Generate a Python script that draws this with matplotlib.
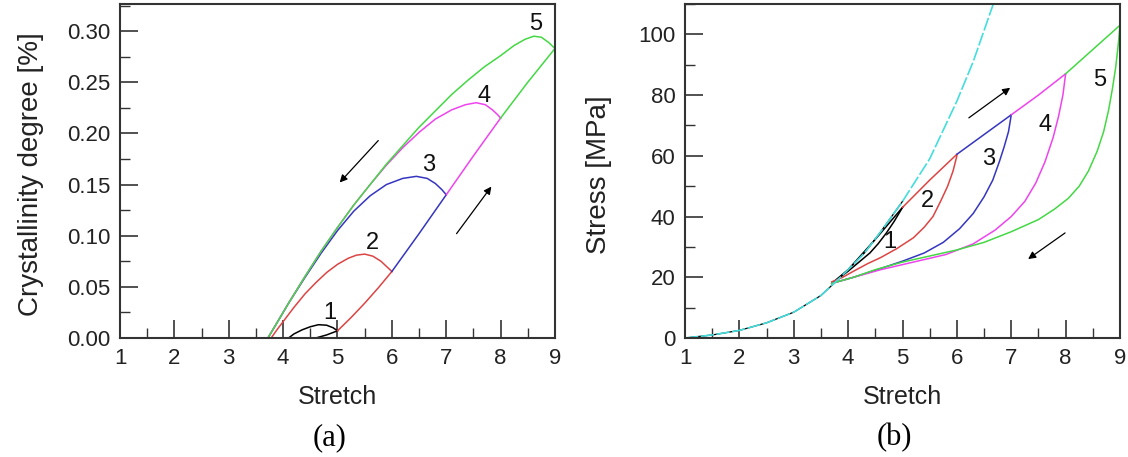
import numpy as np
import matplotlib.pyplot as plt
from matplotlib.ticker import MultipleLocator

plt.rcParams['font.family'] = ['Liberation Sans', 'DejaVu Sans']

# colours of the five loading cycles
cycle_colors = ['black', '#dd4444', '#3535c0', '#ee44ee', '#44d844']
cycle_labels = ['1', '2', '3', '4', '5']

# ---- (a) crystallinity vs stretch ----
# unloading branches (upper arches) of each cycle
cry_unload_x = [
    [4.10, 4.20, 4.35, 4.50, 4.65, 4.80, 4.92, 5.00],
    [3.78, 3.90, 4.00, 4.20, 4.40, 4.60, 4.80, 5.00, 5.20, 5.35, 5.50, 5.65, 5.80, 5.90, 6.00],
    [3.72, 3.90, 4.10, 4.40, 4.70, 5.00, 5.30, 5.60, 5.90, 6.20, 6.45, 6.65, 6.80, 6.92, 7.00],
    [3.72, 3.90, 4.10, 4.40, 4.70, 5.00, 5.30, 5.60, 5.90, 6.20, 6.50, 6.80, 7.10, 7.35, 7.55,
     7.72, 7.85, 7.95, 8.00],
    [3.72, 3.90, 4.10, 4.40, 4.70, 5.00, 5.30, 5.60, 5.90, 6.20, 6.50, 6.80, 7.10, 7.40, 7.70,
     8.00, 8.25, 8.45, 8.61, 8.75, 8.88, 9.00],
]
cry_unload_y = [
    [0.000, 0.004, 0.008, 0.011, 0.013, 0.0125, 0.010, 0.007],
    [0.000, 0.009, 0.016, 0.030, 0.043, 0.054, 0.064, 0.072, 0.078, 0.081, 0.082, 0.080, 0.075,
     0.070, 0.065],
    [0.000, 0.016, 0.034, 0.059, 0.083, 0.105, 0.124, 0.139, 0.150, 0.156, 0.158, 0.156, 0.151,
     0.145, 0.140],
    [0.000, 0.016, 0.034, 0.060, 0.085, 0.108, 0.130, 0.150, 0.169, 0.186, 0.201, 0.214, 0.223,
     0.228, 0.230, 0.228, 0.223, 0.218, 0.215],
    [0.000, 0.016, 0.034, 0.060, 0.085, 0.108, 0.130, 0.150, 0.170, 0.188, 0.206, 0.222, 0.238,
     0.252, 0.265, 0.276, 0.286, 0.292, 0.295, 0.294, 0.289, 0.283],
]
# loading branches (envelope pieces) of each cycle
cry_load_x = [
    [4.60, 4.80, 5.00],
    [5.00, 5.25, 5.50, 5.75, 6.00],
    [6.00, 6.50, 7.00],
    [7.00, 7.50, 8.00],
    [8.00, 8.50, 9.00],
]
cry_load_y = [
    [0.000, 0.003, 0.007],
    [0.007, 0.020, 0.034, 0.049, 0.065],
    [0.065, 0.102, 0.140],
    [0.140, 0.178, 0.215],
    [0.215, 0.250, 0.283],
]
cry_label_pos = [(4.86, 0.024), (5.65, 0.093), (6.67, 0.169), (7.69, 0.237), (8.64, 0.307)]

# ---- (b) stress vs stretch ----
# monotonic reference curve (dashed)
ref_x = [1.0, 1.5, 2.0, 2.5, 3.0, 3.5, 3.8, 4.0, 4.3, 4.6, 5.0, 5.5, 6.0, 6.3, 6.67, 6.75]
ref_y = [0.0, 1.0, 2.5, 5.0, 8.5, 14.0, 19.0, 22.5, 28.0, 35.0, 45.0, 59.0, 78.0, 91.0, 110.0, 114.0]
# unloading branches of each cycle
str_unload_x = [
    [5.00, 4.85, 4.70, 4.55, 4.40, 4.20, 4.00, 3.85, 3.70],
    [6.00, 5.93, 5.83, 5.70, 5.56, 5.40, 5.20, 4.90, 4.60, 4.36, 4.10, 3.90, 3.70],
    [7.00, 6.95, 6.87, 6.78, 6.66, 6.50, 6.30, 6.05, 5.75, 5.40, 5.00, 4.50, 4.10, 3.70],
    [8.00, 7.95, 7.87, 7.77, 7.62, 7.45, 7.25, 7.00, 6.70, 6.30, 5.80, 5.20, 4.60, 4.10, 3.70],
    [9.00, 8.97, 8.92, 8.86, 8.79, 8.70, 8.58, 8.42, 8.25, 8.05, 7.80, 7.50, 7.00, 6.50, 6.00,
     5.50, 5.00, 4.50, 4.10, 3.70],
]
str_unload_y = [
    [43.0, 38.5, 34.5, 31.0, 28.0, 25.0, 22.0, 20.0, 18.0],
    [60.0, 55.0, 50.0, 45.0, 40.0, 36.5, 33.0, 29.5, 26.5, 24.5, 22.0, 20.0, 18.5],
    [73.5, 68.0, 63.0, 58.0, 52.0, 46.5, 41.0, 36.0, 31.5, 28.0, 25.3, 22.3, 20.0, 18.0],
    [87.0, 80.0, 73.0, 66.0, 58.0, 51.0, 45.0, 40.0, 35.5, 31.0, 27.5, 25.0, 22.5, 20.0, 18.0],
    [103.0, 97.0, 89.0, 82.0, 75.0, 68.0, 61.5, 55.0, 50.0, 46.0, 42.5, 39.0, 35.0, 31.5, 29.0,
     27.0, 25.0, 22.5, 20.0, 18.0],
]
# loading branches of each cycle
str_load_x = [
    [3.70, 4.00, 4.50, 5.00],
    [5.00, 5.50, 6.00],
    [6.00, 6.50, 7.00],
    [7.00, 7.50, 8.00],
    [8.00, 8.50, 9.00],
]
str_load_y = [
    [18.0, 22.5, 32.5, 43.0],
    [43.0, 52.0, 60.5],
    [60.5, 67.0, 73.5],
    [73.5, 80.0, 87.0],
    [87.0, 95.0, 103.0],
]
str_label_pos = [(4.76, 31.5), (5.46, 45.0), (6.58, 59.0), (7.62, 70.0), (8.63, 85.0)]


def style_axes(ax):
    ax.set_xlim(1, 9)
    ax.xaxis.set_major_locator(MultipleLocator(1))
    ax.xaxis.set_minor_locator(MultipleLocator(0.5))
    ax.tick_params(which='major', direction='in', length=13, width=1.2,
                   labelsize=16, pad=7, color='#333333', labelcolor='#222222')
    ax.tick_params(which='minor', direction='in', length=7, width=1.0, color='#333333')
    ax.tick_params(top=False, right=False, which='both')
    for s in ax.spines.values():
        s.set_linewidth(1.5)
        s.set_color('#333333')
    ax.set_xlabel('Stretch', fontsize=18, color='#222222')
    ax.xaxis.label.set_va('center')
    ax.xaxis.set_label_coords(0.5, -0.177)


fig = plt.figure(figsize=(11.28, 4.57), dpi=100)
ax1 = fig.add_axes([0.1064, 0.2604, 0.3856, 0.7309])
ax2 = fig.add_axes([0.6073, 0.2604, 0.3856, 0.7309])

arrow_kw = dict(arrowstyle='-|>', color='black', lw=0.9, mutation_scale=11, shrinkA=0, shrinkB=0)

# (a)
for i in range(5):
    ax1.plot(cry_load_x[i], cry_load_y[i], color=cycle_colors[i], lw=1.1)
    ax1.plot(cry_unload_x[i], cry_unload_y[i], color=cycle_colors[i], lw=1.1)
    ax1.text(*cry_label_pos[i], cycle_labels[i], fontsize=17, ha='center', va='center', color='#111111')
ax1.annotate('', xy=(5.04, 0.152), xytext=(5.75, 0.193), arrowprops=arrow_kw)
ax1.annotate('', xy=(7.83, 0.148), xytext=(7.19, 0.102), arrowprops=arrow_kw)
style_axes(ax1)
ax1.set_ylim(0, 0.3265)
ax1.yaxis.set_major_locator(MultipleLocator(0.05))
ax1.yaxis.set_minor_locator(MultipleLocator(0.025))
ax1.yaxis.set_major_formatter(plt.FormatStrFormatter('%.2f'))
ax1.set_ylabel('Crystallinity degree [%]', fontsize=20, color='#222222')
ax1.yaxis.label.set_va('center')
ax1.yaxis.set_label_coords(-0.205, 0.49)

# (b)
ax2.plot(ref_x[:11], ref_y[:11], color='black', lw=0.9)
for i in range(5):
    ax2.plot(str_load_x[i], str_load_y[i], color=cycle_colors[i], lw=1.1)
    ax2.plot(str_unload_x[i], str_unload_y[i], color=cycle_colors[i], lw=1.1)
    ax2.text(*str_label_pos[i], cycle_labels[i], fontsize=17, ha='center', va='center', color='#111111')
ax2.plot(ref_x, ref_y, color='#44dddd', lw=1.2, ls=(0, (8, 1.5)))
ax2.annotate('', xy=(6.98, 82.4), xytext=(6.22, 72.5), arrowprops=arrow_kw)
ax2.annotate('', xy=(7.31, 26.0), xytext=(7.99, 34.6), arrowprops=arrow_kw)
style_axes(ax2)
ax2.set_ylim(0, 110)
ax2.yaxis.set_major_locator(MultipleLocator(20))
ax2.yaxis.set_minor_locator(MultipleLocator(10))
ax2.set_ylabel('Stress [MPa]', fontsize=20, color='#222222')
ax2.yaxis.label.set_va('center')
ax2.yaxis.set_label_coords(-0.197, 0.49)

fig.text(0.292, 0.043, '(a)', fontsize=22, family='Liberation Serif', ha='center', va='center')
fig.text(0.793, 0.043, '(b)', fontsize=22, family='Liberation Serif', ha='center', va='center')

fig.savefig('out.png', dpi=100)
